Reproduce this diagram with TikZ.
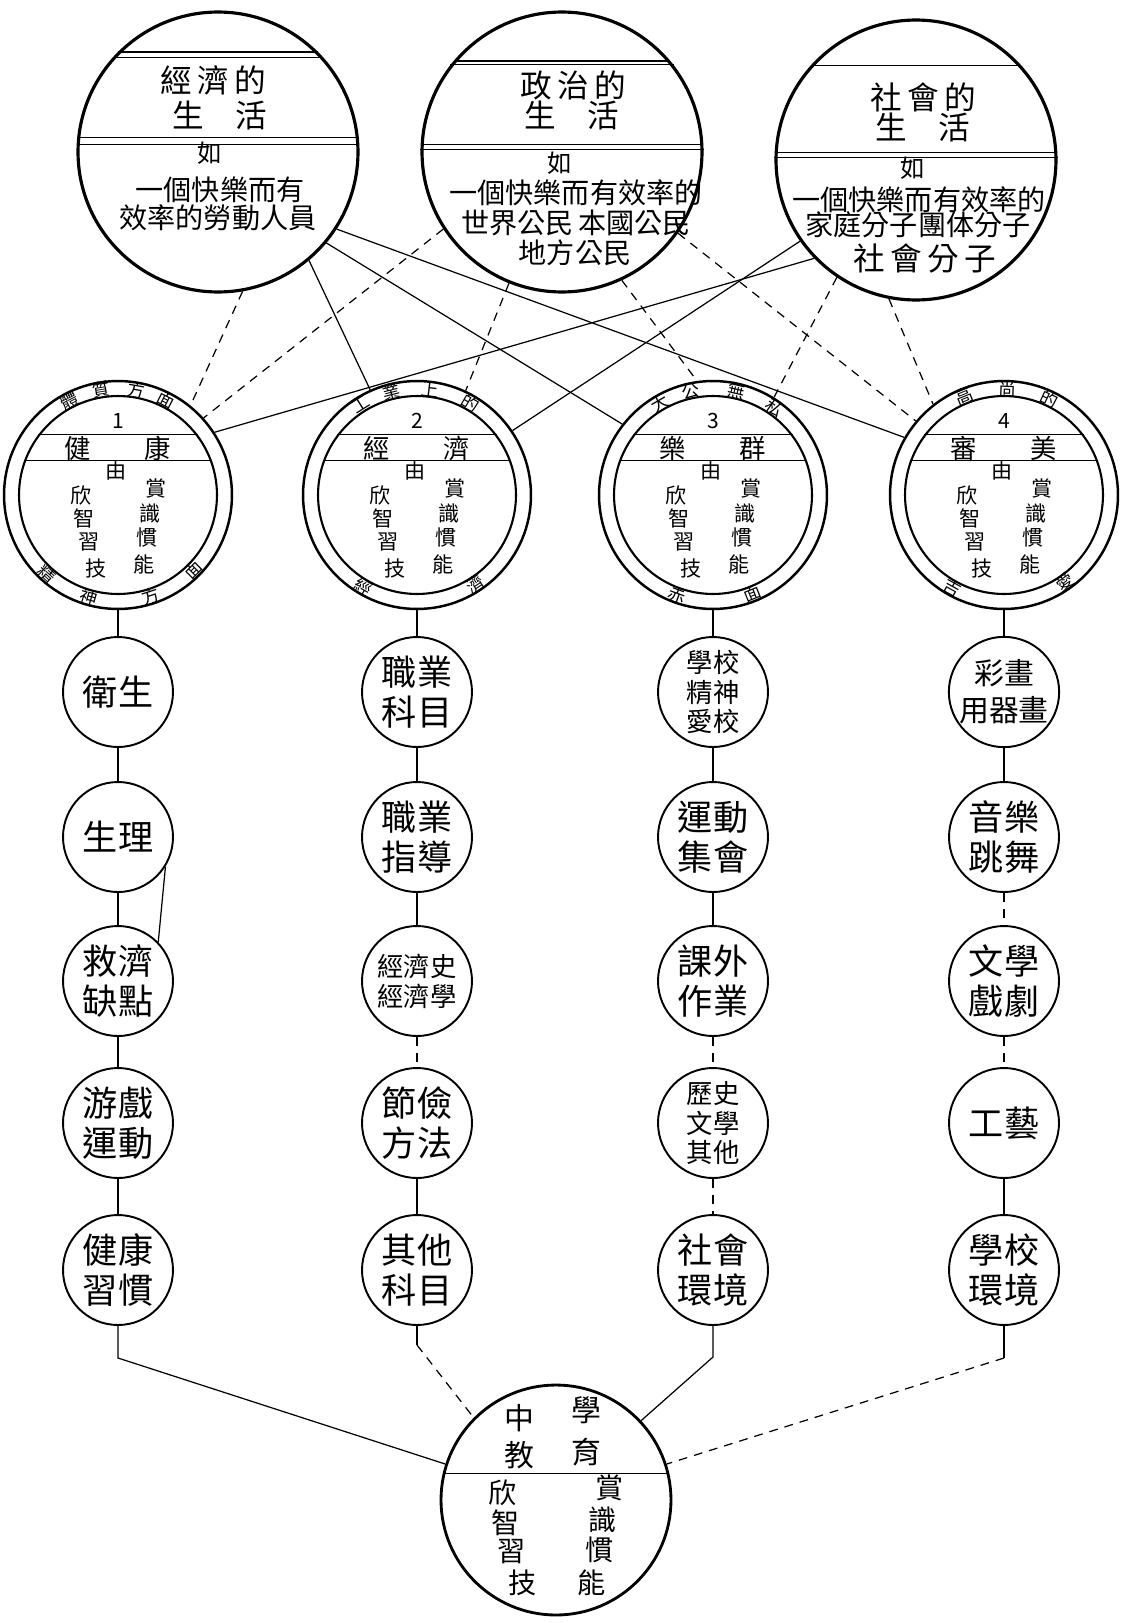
\documentclass[tikz,border=0pt]{standalone}
\usepackage{fontspec}
\setmainfont{Noto Sans CJK TC}
\usetikzlibrary{positioning}

\tikzset{
  life/.style={circle, draw, line width=1.8pt, minimum size=5.6cm, inner sep=0pt},
  aim/.style={circle, draw, line width=1.4pt, minimum size=4.56cm, inner sep=0pt},
  aimin/.style={circle, draw, line width=1.2pt, minimum size=3.96cm, inner sep=0pt},
  ringpath/.style={circle, minimum size=4.24cm, inner sep=0pt},
  item/.style={circle, draw, line width=1.1pt, minimum size=2.2cm, inner sep=0pt,
    align=center, font=\fontsize{20}{23}\selectfont},
  small/.style={font=\fontsize{15}{17}\selectfont},
  chord/.style={line width=0.7pt},
  link/.style={line width=0.7pt},
  dlink/.style={line width=0.7pt, dash pattern=on 5pt off 4pt},
  ttl/.style={font=\fontsize{18}{20}\selectfont},
  body/.style={font=\fontsize{16}{18}\selectfont, inner sep=0pt},
  ru/.style={font=\fontsize{14}{16}\selectfont},
  aimttl/.style={font=\fontsize{15}{17}\selectfont, inner sep=0pt},
  aimsm/.style={font=\fontsize{12}{14}\selectfont, inner sep=0pt},
  ringtxt/.style={font=\fontsize{10}{11}\selectfont, inner sep=0pt},
  num/.style={font=\fontsize{12}{13}\selectfont, inner sep=0pt},
  edutxt/.style={font=\fontsize{17}{19}\selectfont, inner sep=0pt},
}

\begin{document}
\begin{tikzpicture}[x=0.02cm, y=-0.02cm]
\useasboundingbox (0,0) rectangle (1121,1623);

% three kinds of life
\node[life] (econlife) at (218,152) {};
\node[life] (polilife) at (562,152) {};
\node[life] (socilife) at (916,160) {};

\draw[chord] (econlife.135) -- (econlife.45);
\draw[chord] (econlife.138) -- (econlife.42);
\draw[chord] (econlife.174) -- (econlife.6);
\draw[chord] (econlife.177) -- (econlife.3);
\draw[chord] (polilife.140) -- (polilife.40);
\draw[chord] (polilife.142) -- (polilife.38);
\draw[chord] (polilife.177) -- (polilife.3);
\draw[chord] (polilife.179) -- (polilife.1);
\draw[chord] (socilife.138) -- (socilife.42);
\draw[chord] (socilife.177) -- (socilife.3);
\draw[chord] (socilife.179) -- (socilife.1);

\node[ttl] (econ-a) at (213,80) {經\,濟\,的};
\node[ttl] (econ-b) at (220,115) {生\quad 活};
\node[ru] (econ-c) at (210,153) {如};
\node[body] (econ-d) at (220,190) {一個快樂而有};
\node[body] (econ-e) at (218,218) {效率的勞動人員};

\node[ttl] (poli-a) at (573,85) {政\,治\,的};
\node[ttl] (poli-b) at (572,115) {生\quad 活};
\node[ru] (poli-c) at (560,163) {如};
\node[body] (poli-d) at (576,193) {一個快樂而有效率的};
\node[body] (poli-e) at (576,223) {世界公民\,本國公民};
\node[body] (poli-f) at (575,253) {地方公民};

\node[ttl] (soci-a) at (923,97) {社\,會\,的};
\node[ttl] (soci-b) at (923,127) {生\quad 活};
\node[ru] (soci-c) at (913,168) {如};
\node[body] (soci-d) at (919,200) {一個快樂而有效率的};
\node[body] (soci-e) at (918,225) {家庭分子團体分子};
\node[body, font=\fontsize{18}{20}\selectfont] (soci-f) at (925,258) {社\,會\,分\,子};

% four aims
\foreach \nm/\x/\k/\a/\b in {health/118/1/健/康, vocation/417/2/經/濟, social/713/3/樂/群, beauty/1004/4/審/美}{
  \node[aim] (\nm) at (\x,495) {};
  \node[aimin] (\nm-in) at (\x,495) {};
  \node[ringpath] (\nm-mid) at (\x,495) {};
  \draw[chord] (\nm-in.143) -- (\nm-in.37);
  \draw[chord] (\nm-in.160) -- (\nm-in.20);
  \node[num] (\nm-n) at ([shift={(0,-74)}]\nm) {\k};
  \node[aimttl] (\nm-l) at ([shift={(-40,-47)}]\nm) {\a};
  \node[aimttl] (\nm-r) at ([shift={(40,-47)}]\nm) {\b};
  \node[aimsm] (\nm-y) at ([shift={(-2,-25)}]\nm) {由};
  \foreach \dx/\dy/\c [count=\i] in {-37/0/欣,-34/23/智,-29/47/習,-22/73/技,38/-6/賞,32/18/識,29/43/慣,26/69/能}
    \node[aimsm] (\nm-c\i) at ([shift={(\dx,\dy)}]\nm) {\c};
}

% ring words
\foreach \ang/\c [count=\i] in {117/體,99/質,80/方,63/面}
  \node[ringtxt, rotate=\ang-90] (health-t\i) at (health-mid.\ang) {\c};
\foreach \ang/\c [count=\i] in {228/精,254/神,288/方,315/面}
  \node[ringtxt, rotate=\ang+90] (health-b\i) at (health-mid.\ang) {\c};
\foreach \ang/\c [count=\i] in {122/工,104/業,83/上,60/的}
  \node[ringtxt, rotate=\ang-90] (vocation-t\i) at (vocation-mid.\ang) {\c};
\foreach \ang/\c [count=\i] in {240/經,303/濟}
  \node[ringtxt, rotate=\ang+90] (vocation-b\i) at (vocation-mid.\ang) {\c};
\foreach \ang/\c [count=\i] in {120/大,102/公,77/無,55/私}
  \node[ringtxt, rotate=\ang-90] (social-t\i) at (social-mid.\ang) {\c};
\foreach \ang/\c [count=\i] in {250/赤,292/面}
  \node[ringtxt, rotate=\ang+90] (social-b\i) at (social-mid.\ang) {\c};
\foreach \ang/\c [count=\i] in {112/高,88/尚,65/的}
  \node[ringtxt, rotate=\ang-90] (beauty-t\i) at (beauty-mid.\ang) {\c};
\foreach \ang/\c [count=\i] in {241/吉,305/愛}
  \node[ringtxt, rotate=\ang+90] (beauty-b\i) at (beauty-mid.\ang) {\c};

% life -- aim
\draw[dlink] (econlife.-80) -- (health.51);
\draw[dlink] (polilife.-147) -- (health.42);
\draw[link] (socilife.-136) -- (health.33);
\draw[link] (econlife.-50) -- (vocation.114);
\draw[dlink] (polilife.-112) -- (vocation.65);
\draw[link] (socilife.-145) -- (vocation.34);
\draw[link] (econlife.-40) -- (social.142);
\draw[dlink] (polilife.-65) -- (social.98);
\draw[dlink] (socilife.-124) -- (social.58);
\draw[link] (econlife.-33) -- (beauty.150);
\draw[dlink] (polilife.-35) -- (beauty.140);
\draw[dlink] (socilife.-101) -- (beauty.128);

% columns of means
\node[item] (h1) at (118,692) {衛生};
\node[item] (h2) at (118,837) {生理};
\node[item] (h3) at (118,981) {救濟\\缺點};
\node[item] (h4) at (118,1123) {游戲\\運動};
\node[item] (h5) at (118,1270) {健康\\習慣};

\node[item] (v1) at (417,692) {職業\\科目};
\node[item] (v2) at (417,837) {職業\\指導};
\node[item, small] (v3) at (417,981) {經濟史\\經濟學};
\node[item] (v4) at (417,1123) {節儉\\方法};
\node[item] (v5) at (417,1270) {其他\\科目};

\node[item, small] (s1) at (713,692) {學校\\精神\\愛校};
\node[item] (s2) at (713,837) {運動\\集會};
\node[item] (s3) at (713,981) {課外\\作業};
\node[item, small] (s4) at (713,1123) {歷史\\文學\\其他};
\node[item] (s5) at (713,1270) {社會\\環境};

\node[item, font=\fontsize{17}{21}\selectfont] (a1) at (1004,692) {彩畫\\用器畫};
\node[item] (a2) at (1004,837) {音樂\\跳舞};
\node[item] (a3) at (1004,981) {文學\\戲劇};
\node[item] (a4) at (1004,1123) {工藝};
\node[item] (a5) at (1004,1270) {學校\\環境};

\foreach \p/\q in {health/h1,h1/h2,h2/h3,h3/h4,h4/h5,
                   vocation/v1,v1/v2,v2/v3,v4/v5,
                   social/s1,s1/s2,s2/s3,
                   beauty/a1,a1/a2,a4/a5}
  \draw[link] (\p) -- (\q);
\foreach \p/\q in {v3/v4,s3/s4,s4/s5,a2/a3,a3/a4}
  \draw[dlink] (\p) -- (\q);
\draw[link] (h2.-32) -- (h3.44);

% secondary school education
\node[aim, minimum size=4.6cm, line width=1.6pt] (school) at (556,1500) {};
\draw[chord] (school.167) -- (school.13);
\node[edutxt] (school-a) at (519,1418) {中};
\node[edutxt] (school-b) at (586,1410) {學};
\node[edutxt] (school-c) at (519,1455) {教};
\node[edutxt] (school-d) at (586,1452) {育};
\foreach \x/\y/\c [count=\i] in {503/1493/欣,506/1523/智,512/1552/習,523/1583/技,610/1488/賞,603/1520/識,600/1550/慣,592/1583/能}
  \node[edutxt, font=\fontsize{16}{18}\selectfont] (school-c\i) at (\x,\y) {\c};

\coordinate (h-end) at (118,1358);
\coordinate (v-end) at (417,1345);
\coordinate (s-end) at (713,1357);
\coordinate (a-end) at (1004,1358);
\draw[link] (h5) -- (h-end) -- (school.162);
\draw[link] (v5) -- (v-end);
\draw[dlink] (v-end) -- (school.135);
\draw[link] (s5) -- (s-end) -- (school.43);
\draw[link] (a5) -- (a-end);
\draw[dlink] (a-end) -- (school.18);

\end{tikzpicture}
\end{document}
